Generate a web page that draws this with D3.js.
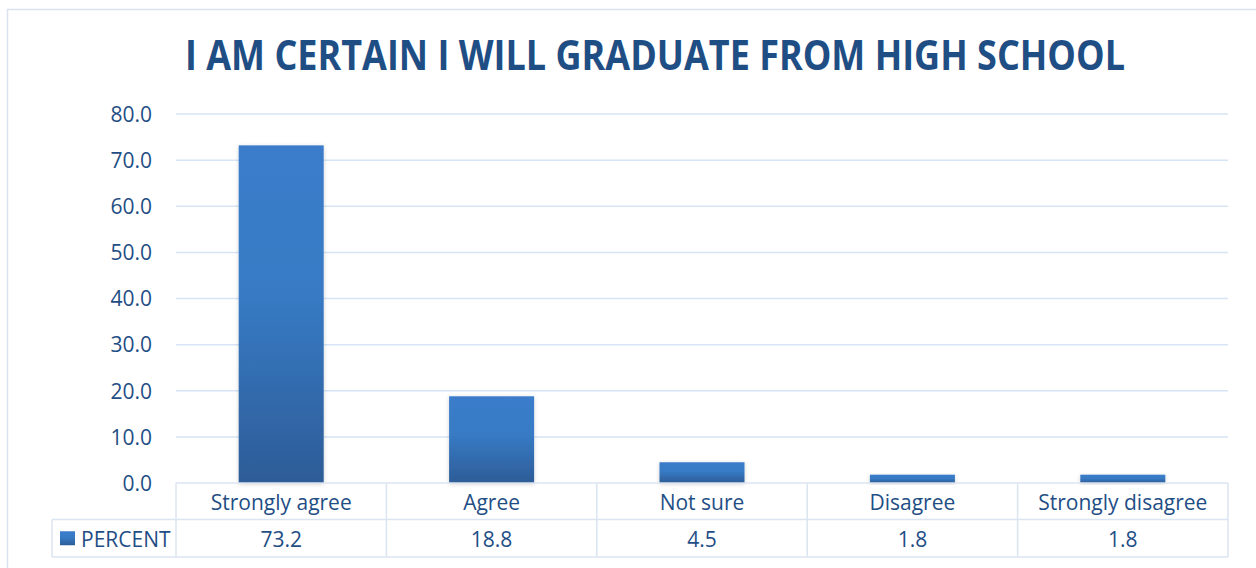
<!DOCTYPE html>
<html>
<head>
<meta charset="utf-8">
<script src="https://cdn.jsdelivr.net/npm/d3@7"></script>
<style>
  html, body { margin: 0; padding: 0; background: #fff; }
  svg { display: block; }
</style>
</head>
<body>
<svg id="chart" width="1256" height="568"></svg>
<script>
// Survey responses
const categories = ["Strongly agree", "Agree", "Not sure", "Disagree", "Strongly disagree"];
const percent = [73.2, 18.8, 4.5, 1.8, 1.8];
const seriesName = "PERCENT";
const yTicks = [0, 10, 20, 30, 40, 50, 60, 70, 80];
const titleText = "I AM CERTAIN I WILL GRADUATE FROM HIGH SCHOOL";

const svg = d3.select("#chart");
const W = 1256, H = 568;
const textColor = "#1f4e85";
const gridColor = "#d6e4f5";
const font = "'Open Sans', 'Liberation Sans', sans-serif";
const labelSize = 21;

const plot = { left: 176, right: 1228, top: 114, bottom: 483 };
const rowH = 36.5;

const defs = svg.append("defs");
const grad = defs.append("linearGradient").attr("id", "barGrad")
  .attr("x1", 0).attr("y1", 0).attr("x2", 0).attr("y2", 1);
grad.append("stop").attr("offset", "0%").attr("stop-color", "#3b7dcb");
grad.append("stop").attr("offset", "45%").attr("stop-color", "#377ac4");
grad.append("stop").attr("offset", "100%").attr("stop-color", "#2d5c97");

const shadow = defs.append("filter").attr("id", "barShadow")
  .attr("x", "-20%").attr("y", "-20%").attr("width", "140%").attr("height", "140%");
shadow.append("feDropShadow").attr("dx", 0).attr("dy", 1).attr("stdDeviation", 2)
  .attr("flood-color", "#000").attr("flood-opacity", 0.18);

// Outer chart frame
svg.append("rect").attr("x", 7.5).attr("y", 9.5).attr("width", W).attr("height", H)
  .attr("fill", "#fff").attr("stroke", "#d9e3ef").attr("stroke-width", 1.5);

// Title
svg.append("text")
  .attr("x", 655).attr("y", 70)
  .attr("text-anchor", "middle")
  .attr("font-family", font).attr("font-weight", 700).attr("font-size", 41)
  .attr("fill", textColor)
  .attr("textLength", 940).attr("lengthAdjust", "spacingAndGlyphs")
  .text(titleText);

const x = d3.scaleBand().domain(categories).range([plot.left, plot.right]).paddingInner(0).paddingOuter(0);
const y = d3.scaleLinear().domain([0, 80]).range([plot.bottom, plot.top]);

// Gridlines
svg.append("g").selectAll("line").data(yTicks.filter(t => t > 0)).join("line")
  .attr("x1", plot.left).attr("x2", plot.right)
  .attr("y1", d => y(d)).attr("y2", d => y(d))
  .attr("stroke", gridColor).attr("stroke-width", 1.5);

// Y tick labels
const yAxis = d3.axisLeft(y).tickValues(yTicks).tickFormat(d3.format(".1f")).tickSize(0).tickPadding(0);
const yg = svg.append("g").attr("transform", `translate(152,0)`).call(yAxis);
yg.select(".domain").remove();
yg.selectAll("text")
  .attr("font-family", font).attr("font-size", labelSize).attr("fill", textColor)
  .attr("dy", "0.35em");

// Bars
const barW = 85;
svg.append("g").selectAll("rect").data(percent).join("rect")
  .attr("x", (d, i) => x(categories[i]) + x.bandwidth() / 2 - barW / 2)
  .attr("y", d => y(d))
  .attr("width", barW)
  .attr("height", d => y(0) - y(d))
  .attr("fill", "url(#barGrad)")
  .attr("filter", "url(#barShadow)");

// Data table beneath the axis
const tableStroke = "#dbe5f1";
const tg = svg.append("g");
const tTop = plot.bottom, tMid = plot.bottom + rowH, tBot = plot.bottom + 2 * rowH + 1;
const legendLeft = 52;

// horizontal lines
tg.append("line").attr("x1", plot.left).attr("x2", plot.right).attr("y1", tTop).attr("y2", tTop)
  .attr("stroke", tableStroke).attr("stroke-width", 1.5);
tg.append("line").attr("x1", legendLeft).attr("x2", plot.right).attr("y1", tMid).attr("y2", tMid)
  .attr("stroke", tableStroke).attr("stroke-width", 1.5);
tg.append("line").attr("x1", legendLeft).attr("x2", plot.right).attr("y1", tBot).attr("y2", tBot)
  .attr("stroke", tableStroke).attr("stroke-width", 1.5);
// vertical lines
const vx = categories.map(c => x(c)).concat([plot.right]);
tg.selectAll("line.v").data(vx).join("line").attr("class", "v")
  .attr("x1", d => d).attr("x2", d => d).attr("y1", tTop).attr("y2", tBot)
  .attr("stroke", tableStroke).attr("stroke-width", 1.5);
tg.append("line").attr("x1", legendLeft).attr("x2", legendLeft).attr("y1", tMid).attr("y2", tBot)
  .attr("stroke", tableStroke).attr("stroke-width", 1.5);

// category labels
tg.selectAll("text.cat").data(categories).join("text").attr("class", "cat")
  .attr("x", d => x(d) + x.bandwidth() / 2)
  .attr("y", (tTop + tMid) / 2 + 1)
  .attr("dy", "0.35em")
  .attr("text-anchor", "middle")
  .attr("font-family", font).attr("font-size", labelSize).attr("fill", textColor)
  .text(d => d);

// values row
tg.selectAll("text.val").data(percent).join("text").attr("class", "val")
  .attr("x", (d, i) => x(categories[i]) + x.bandwidth() / 2)
  .attr("y", (tMid + tBot) / 2 + 1)
  .attr("dy", "0.35em")
  .attr("text-anchor", "middle")
  .attr("font-family", font).attr("font-size", labelSize).attr("fill", textColor)
  .text(d => d3.format(".1f")(d));

// legend key
tg.append("rect").attr("x", 60).attr("y", (tMid + tBot) / 2 - 7).attr("width", 15).attr("height", 14)
  .attr("fill", "url(#barGrad)");
tg.append("text").attr("x", 81).attr("y", (tMid + tBot) / 2 + 1).attr("dy", "0.35em")
  .attr("font-family", font).attr("font-size", labelSize).attr("fill", textColor)
  .text(seriesName);
</script>
</body>
</html>
